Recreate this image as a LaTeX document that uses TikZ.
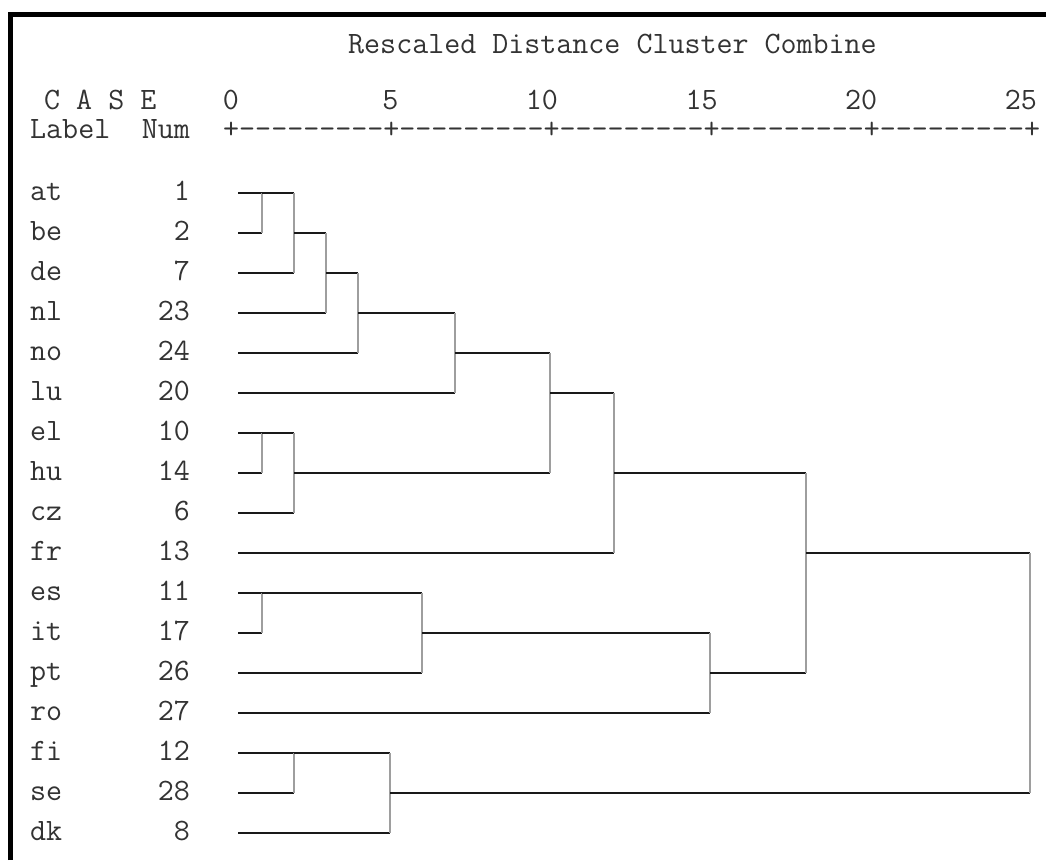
\documentclass[tikz,border=0pt]{standalone}
\usepackage{tikz}

\tikzset{
  spss/.style={font=\ttfamily\fontsize{31.1}{34}\selectfont, text=black!80, inner sep=0pt},
  hline/.style={draw=black!90, line width=1.6pt},
  vline/.style={draw=black!38, line width=2.8pt},
}

\begin{document}
\begin{tikzpicture}[x=1pt,y=-1pt]
  \useasboundingbox (0,0) rectangle (1046,860);
  \fill[white] (0,0) rectangle (1046,860);
  % frame
  \draw[line width=4.5pt] (10.5,860) -- (10.5,14.5) -- (1046,14.5);
  % header
  \node[spss,anchor=base west] (title) at (348,53) {Rescaled Distance Cluster Combine};
  \node[spss,anchor=base west] (case) at (44,109) {C A S E};
  \node[spss,anchor=base west] (label) at (30,138) {Label};
  \node[spss,anchor=base east] (num) at (190,138) {Num};
  \foreach \v [count=\k from 0] in {0,5,10,15,20,25}
    \node[spss,anchor=base east] (tick\v) at ({239+159.6*\k},109) {\v};
  \node[spss,anchor=base west] (axis) at (223,138) {+---------+---------+---------+---------+---------+};
  % cases
  \foreach \lab/\num [count=\i] in {at/1,be/2,de/7,nl/23,no/24,lu/20,el/10,hu/14,cz/6,fr/13,es/11,it/17,pt/26,ro/27,fi/12,se/28,dk/8} {
    \node[spss,anchor=base west] (lab\i) at (30,{160+40*\i}) {\lab};
    \node[spss,anchor=base east] (num\i) at (190,{160+40*\i}) {\num};
    \coordinate (leaf\i) at (238,{153+40*\i});
  }
  % cluster joins
  \coordinate (c1) at (262,193);
  \coordinate (c2) at (294,233);
  \coordinate (c3) at (326,273);
  \coordinate (c4) at (358,313);
  \coordinate (c5) at (455,353);
  \coordinate (c6) at (262,433);
  \coordinate (c7) at (294,473);
  \coordinate (c8) at (550,393);
  \coordinate (c9) at (614,473);
  \coordinate (c10) at (262,593);
  \coordinate (c11) at (422,633);
  \coordinate (c12) at (710,673);
  \coordinate (c13) at (806,553);
  \coordinate (c14) at (294,753);
  \coordinate (c15) at (390,793);
  \coordinate (c16) at (1030,673);
  \foreach \a/\b/\m in {leaf1/leaf2/c1, c1/leaf3/c2, c2/leaf4/c3, c3/leaf5/c4, c4/leaf6/c5,
      leaf7/leaf8/c6, c6/leaf9/c7, c5/c7/c8, c8/leaf10/c9, leaf11/leaf12/c10, c10/leaf13/c11,
      c11/leaf14/c12, c9/c12/c13, leaf15/leaf16/c14, c14/leaf17/c15, c13/c15/c16} {
    \draw[hline] (\a) -- (\a -| \m);
    \draw[hline] (\b) -- (\b -| \m);
    \draw[vline] (\a -| \m) -- (\b -| \m);
  }
\end{tikzpicture}
\end{document}
